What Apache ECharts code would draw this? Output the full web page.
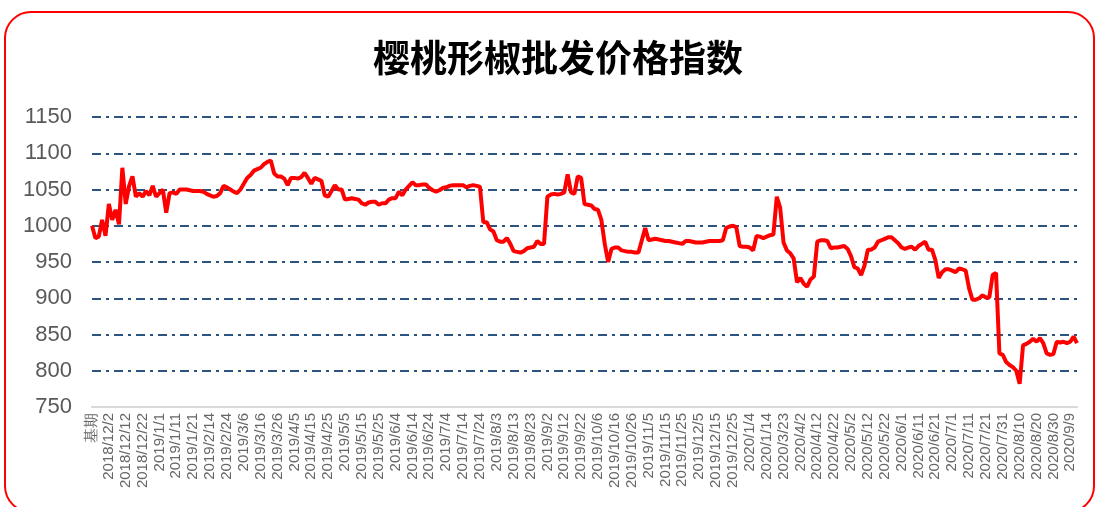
<!DOCTYPE html>
<html>
<head>
<meta charset="utf-8">
<script src="https://cdn.jsdelivr.net/npm/echarts@6/dist/echarts.min.js"></script>
<style>
html,body{margin:0;padding:0;background:#fff;}
#chart{width:1097px;height:507px;}
</style>
</head>
<body>
<div id="chart"></div>
<script>
// Tick labels shown on the x axis (every 10th trading day)
var tickLabels = ["基期","2018/12/2","2018/12/12","2018/12/22","2019/1/1","2019/1/11","2019/1/21","2019/2/14","2019/2/24","2019/3/6","2019/3/16","2019/3/26","2019/4/5","2019/4/15","2019/4/25","2019/5/5","2019/5/15","2019/5/25","2019/6/4","2019/6/14","2019/6/24","2019/7/4","2019/7/14","2019/7/24","2019/8/3","2019/8/13","2019/8/23","2019/9/2","2019/9/12","2019/9/22","2019/10/6","2019/10/16","2019/10/26","2019/11/5","2019/11/15","2019/11/25","2019/12/5","2019/12/15","2019/12/25","2020/1/4","2020/1/14","2020/3/23","2020/4/2","2020/4/12","2020/4/22","2020/5/2","2020/5/12","2020/5/22","2020/6/1","2020/6/11","2020/6/21","2020/7/1","2020/7/11","2020/7/21","2020/7/31","2020/8/10","2020/8/20","2020/8/30","2020/9/9"];
var pointsPerTick = 5;   // sampled values between two labels
var trailingPoints = 2;  // values after the last label

// Index values (sampled every ~2 trading days)
var indexValues = [
1000,983,985,1008,986,1030,1008,1022,1002,1080,
1030,1055,1068,1040,1045,1040,1048,1042,1055,1040,
1045,1050,1018,1045,1046,1044,1050,1050,1050,1049,
1048,1048,1048,1047,1044,1042,1040,1041,1045,1055,
1053,1050,1047,1045,1050,1058,1066,1070,1076,1078,
1080,1085,1088,1090,1072,1068,1068,1065,1056,1066,
1066,1065,1067,1073,1066,1058,1066,1064,1062,1042,
1040,1048,1056,1050,1050,1036,1037,1038,1037,1036,
1031,1029,1032,1033,1033,1029,1031,1031,1036,1038,
1038,1047,1042,1050,1055,1060,1056,1056,1057,1057,
1052,1049,1047,1049,1052,1053,1055,1056,1056,1056,
1056,1053,1055,1056,1055,1054,1005,1005,995,992,
980,978,978,983,975,965,964,963,965,969,
970,971,979,975,975,1040,1043,1044,1043,1044,
1046,1071,1046,1044,1068,1066,1030,1029,1028,1023,
1022,1008,975,950,968,970,970,966,965,964,
964,963,963,980,997,980,981,982,981,980,
979,979,978,977,976,975,979,979,978,977,
977,977,978,979,979,979,979,980,997,999,
1000,998,972,971,971,970,966,986,985,983,
985,987,988,1040,1025,977,966,962,955,922,
928,920,916,926,930,978,980,980,979,969,
970,970,971,972,968,958,943,941,932,945,
967,967,970,978,980,982,984,984,980,976,
970,968,970,971,967,972,975,978,967,967,
953,928,936,940,940,938,936,941,940,938,
914,898,898,900,904,901,901,932,935,824,
822,812,808,805,800,782,835,837,840,844,
840,845,838,824,822,823,840,839,840,838,
840,847,838
];

var yMin = 750, yMax = 1150, yStep = 50;
var titleText = "樱桃形椒批发价格指数";

// Build category list from the tick labels
var categories = [];
tickLabels.forEach(function (lab, k) {
  categories.push(lab);
  if (k < tickLabels.length - 1) {
    for (var j = 1; j < pointsPerTick; j++) categories.push("");
  }
});
for (var t = 0; t < trailingPoints; t++) categories.push("");

var chart = echarts.init(document.getElementById('chart'));
chart.setOption({
  animation: false,
  backgroundColor: '#fff',
  title: {
    text: titleText,
    left: 553,
    top: 34,
    textAlign: 'center',
    textStyle: {
      fontFamily: 'Noto Sans CJK SC',
      fontSize: 37,
      fontWeight: 'bold',
      color: '#000'
    }
  },
  graphic: [{
    type: 'rect',
    shape: { x: 5, y: 12, width: 1089, height: 500, r: 26 },
    style: { fill: 'none', stroke: '#FF0000', lineWidth: 2 },
    silent: true
  }],
  grid: { left: 92, right: 20, top: 117, bottom: 100, containLabel: false },
  xAxis: {
    type: 'category',
    data: categories,
    boundaryGap: false,
    axisLine: { lineStyle: { color: '#D9D9D9', width: 2 } },
    axisTick: { show: false },
    axisLabel: {
      interval: pointsPerTick - 1,
      rotate: 90,
      margin: 6,
      fontSize: 15,
      color: '#666666',
      fontFamily: 'Liberation Sans'
    },
    splitLine: { show: false }
  },
  yAxis: {
    type: 'value',
    min: yMin,
    max: yMax,
    interval: yStep,
    axisLine: { show: false },
    axisTick: { show: false },
    axisLabel: {
      margin: 20,
      fontSize: 22,
      color: '#595959',
      fontFamily: 'Liberation Sans',
      formatter: function (v) { return String(v); }
    },
    splitLine: {
      show: true,
      lineStyle: { color: '#2B5480', width: 2, type: [9, 5, 3, 5] }
    }
  },
  series: [{
    type: 'line',
    data: indexValues,
    showSymbol: false,
    symbol: 'none',
    lineStyle: { color: '#FF0000', width: 4 },
    itemStyle: { color: '#FF0000' }
  }]
});
</script>
</body>
</html>
